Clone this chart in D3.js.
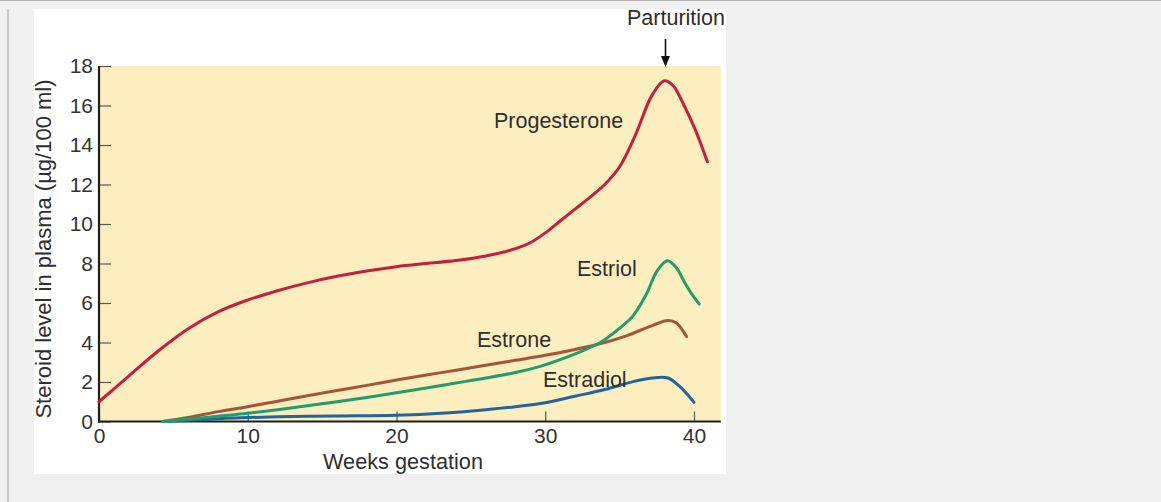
<!DOCTYPE html>
<html>
<head>
<meta charset="utf-8">
<script src="https://cdn.jsdelivr.net/npm/d3@7"></script>
<style>
  html, body { margin: 0; padding: 0; background: #f0f0f0; }
  svg { display: block; }
  text { font-family: "Liberation Sans", Arial, Helvetica, sans-serif; }
</style>
</head>
<body>
<svg id="chart" width="1161" height="502"></svg>
<script>
// Steroid levels in maternal plasma (µg/100 ml) across gestation (weeks)
const progesterone = [
  [0, 1.0], [2, 2.3], [4, 3.58], [6, 4.7], [8, 5.55], [10, 6.15], [12, 6.62],
  [14, 7.02], [16, 7.35], [18, 7.62], [20, 7.84], [22, 8.0], [24, 8.15], [26, 8.38],
  [28, 8.75], [29, 9.05], [30, 9.55], [31, 10.15], [32, 10.75], [33, 11.35], [34, 12.0],
  [35, 12.9], [36, 14.4], [37.2, 16.55], [38, 17.25], [38.6, 17.0], [39.3, 16.05], [40.1, 14.75], [40.9, 13.15]
];
const estriol = [
  [4.3, 0], [6, 0.12], [8, 0.27], [10, 0.42], [12, 0.6], [14, 0.8], [16, 1.0],
  [18, 1.22], [20, 1.46], [22, 1.7], [24, 1.95], [26, 2.2], [28, 2.48], [29.6, 2.78],
  [31, 3.13], [32.5, 3.58], [33.7, 4.0], [34.8, 4.6], [35.9, 5.35], [36.8, 6.45],
  [37.5, 7.6], [38.2, 8.14], [38.8, 7.8], [39.4, 7.0], [39.9, 6.4], [40.35, 5.95]
];
const estrone = [
  [4.3, 0], [6, 0.2], [8, 0.5], [10, 0.75], [12, 1.03], [14, 1.3], [16, 1.57],
  [18, 1.83], [20, 2.1], [22, 2.35], [24, 2.6], [26, 2.85], [28, 3.1], [30, 3.35],
  [32, 3.65], [34, 4.0], [35.5, 4.35], [37, 4.8], [38.25, 5.12], [38.8, 5.0], [39.5, 4.3]
];
const estradiol = [
  [4.3, 0], [6, 0.06], [8, 0.14], [10, 0.2], [13, 0.25], [16, 0.28], [20, 0.32],
  [23, 0.42], [26, 0.6], [28, 0.75], [30, 0.95], [32, 1.28], [34, 1.62], [35.9, 2.02],
  [37.2, 2.2], [38.25, 2.2], [39, 1.8], [39.5, 1.42], [40, 0.97]
];

const xTicks = [0, 10, 20, 30, 40];
const yTicks = [0, 2, 4, 6, 8, 10, 12, 14, 16, 18];
const xAxisEnd = 41.8;

const seriesNames = ["Progesterone", "Estriol", "Estrone", "Estradiol"];
const seriesData = [progesterone, estriol, estrone, estradiol];
const seriesColors = ["#c61f3c", "#1f9e6c", "#a3553a", "#23649c"];
const labelPos = [[494, 128], [577, 276], [477, 347], [543, 387]];

const svg = d3.select("#chart");

// window chrome: top rule, left bar, white panel
svg.append("rect").attr("x", 0).attr("y", 0).attr("width", 1161).attr("height", 502).attr("fill", "#f0f0f0");
svg.append("line").attr("x1", 0).attr("x2", 1161).attr("y1", 0.5).attr("y2", 0.5)
  .attr("stroke", "#b4b4b4").attr("stroke-width", 1);
svg.append("rect").attr("x", 7).attr("y", 9).attr("width", 2).attr("height", 493).attr("fill", "#c9c9c9");
svg.append("rect").attr("x", 34).attr("y", 9).attr("width", 692).attr("height", 465).attr("fill", "#ffffff");

const x = d3.scaleLinear().domain([0, 40]).range([99, 694]);
const y = d3.scaleLinear().domain([0, 18]).range([421.5, 66]);

// plot background
svg.append("rect")
  .attr("x", x(0)).attr("y", y(18))
  .attr("width", x(xAxisEnd) - x(0)).attr("height", y(0) - y(18))
  .attr("fill", "#fdeebf");

// axes with inward ticks
const yAxis = d3.axisLeft(y).tickValues(yTicks).tickSizeInner(-12).tickSizeOuter(0).tickPadding(6);
const gy = svg.append("g").attr("transform", `translate(${x(0)},0)`).call(yAxis);
gy.select(".domain").remove();
gy.selectAll(".tick line").attr("stroke", "#5a5a50").attr("stroke-width", 1.2);
gy.selectAll(".tick text").attr("font-size", 21).attr("fill", "#333").attr("font-family", "Liberation Sans, Arial, sans-serif");

const xAxis = d3.axisBottom(x).tickValues(xTicks).tickSizeInner(-10).tickSizeOuter(0).tickPadding(7);
const gx = svg.append("g").attr("transform", `translate(0,${y(0)})`).call(xAxis);
gx.select(".domain").remove();
gx.selectAll(".tick line").attr("stroke", "#4a5a66").attr("stroke-width", 1.2);
gx.selectAll(".tick text").attr("font-size", 21).attr("fill", "#333").attr("font-family", "Liberation Sans, Arial, sans-serif");

// axis lines
svg.append("line").attr("x1", x(0)).attr("x2", x(0)).attr("y1", y(18)).attr("y2", y(0) + 1)
  .attr("stroke", "#1e1e1e").attr("stroke-width", 2.2);
svg.append("line").attr("x1", x(0) - 1).attr("x2", x(xAxisEnd)).attr("y1", y(0)).attr("y2", y(0))
  .attr("stroke", "#1e1e1e").attr("stroke-width", 2.2);

// curves
const line = d3.line()
  .x(d => x(d[0]))
  .y(d => y(d[1]))
  .curve(d3.curveCatmullRom.alpha(0.5));

svg.append("g").selectAll("path")
  .data(seriesData.slice().reverse())
  .join("path")
  .attr("d", line)
  .attr("fill", "none")
  .attr("stroke", (d, i) => seriesColors[seriesData.length - 1 - i])
  .attr("stroke-width", 3)
  .attr("stroke-linecap", "round")
  .attr("stroke-linejoin", "round");

// series labels
svg.append("g").selectAll("text")
  .data(seriesNames)
  .join("text")
  .attr("x", (d, i) => labelPos[i][0])
  .attr("y", (d, i) => labelPos[i][1])
  .attr("font-size", 21.5)
  .attr("fill", "#2e2e2e")
  .text(d => d);

// parturition marker
svg.append("text").attr("x", 627).attr("y", 25).attr("font-size", 21.5).attr("fill", "#2e2e2e").text("Parturition");
const ax = 665.5;
svg.append("line").attr("x1", ax).attr("x2", ax).attr("y1", 39).attr("y2", 58)
  .attr("stroke", "#111").attr("stroke-width", 1.6);
svg.append("path").attr("d", `M${ax - 4.5},56 L${ax + 4.5},56 L${ax},67 Z`).attr("fill", "#111");

// axis titles
svg.append("text").attr("x", 403).attr("y", 469).attr("text-anchor", "middle")
  .attr("font-size", 21.7).attr("fill", "#2e2e2e").text("Weeks gestation");
svg.append("text").attr("transform", "translate(51,249) rotate(-90)").attr("text-anchor", "middle")
  .attr("font-size", 22).attr("fill", "#2e2e2e").text("Steroid level in plasma (µg/100 ml)");
</script>
</body>
</html>
